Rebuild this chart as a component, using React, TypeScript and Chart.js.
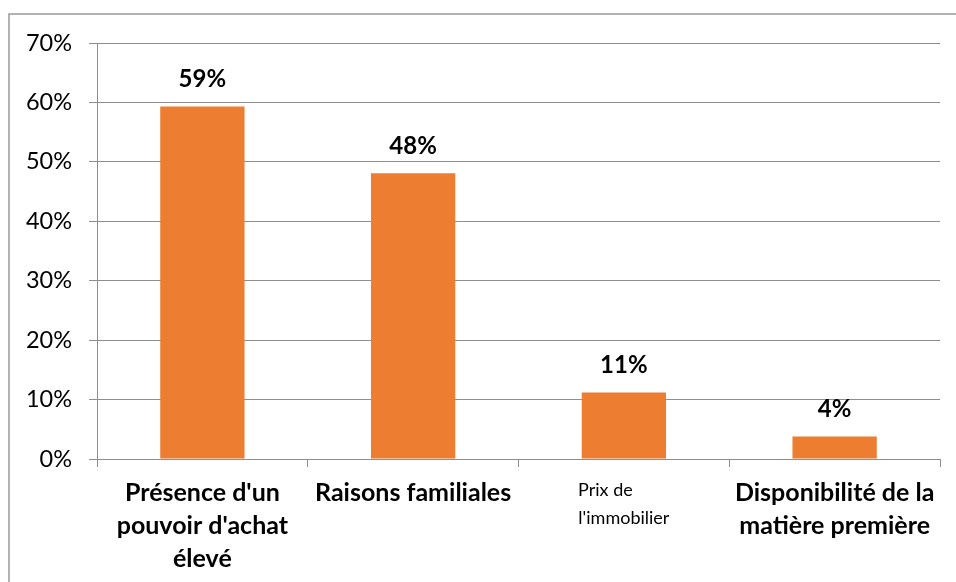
import React, { useEffect, useRef } from "react";
import { Chart, registerables } from "chart.js";

Chart.register(...registerables);

const categories: (string | string[])[] = [
  ["Présence d'un", "pouvoir d'achat", "élevé"],
  "Raisons familiales",
  ["Prix de\u00A0\u00A0\u00A0\u00A0\u00A0\u00A0\u00A0\u00A0", "l'immobilier"],
  ["Disponibilité de la", "matière première"],
];
const values: number[] = [59.3, 48.1, 11.2, 3.8];
const valueLabels: string[] = ["59%", "48%", "11%", "4%"];
const yTicks: number[] = [0, 10, 20, 30, 40, 50, 60, 70];

const FONT = "Lato, 'Open Sans', sans-serif";

export default function App() {
  const ref = useRef<HTMLCanvasElement | null>(null);

  useEffect(() => {
    if (!ref.current) return;
    const frame = {
      id: "frame",
      beforeDraw(chart: any) {
        const ctx = chart.ctx;
        ctx.save();
        ctx.fillStyle = "#ffffff";
        ctx.fillRect(0, 0, chart.width, chart.height);
        ctx.strokeStyle = "#9a9a9a";
        ctx.lineWidth = 1.5;
        ctx.strokeRect(9, 14, chart.width + 20, chart.height + 20);
        ctx.restore();
      },
    };
    const valueLabelPlugin = {
      id: "valueLabels",
      afterDatasetsDraw(chart: any) {
        const ctx = chart.ctx;
        const meta = chart.getDatasetMeta(0);
        ctx.save();
        ctx.font = `bold 24px ${FONT}`;
        ctx.fillStyle = "#000000";
        ctx.textAlign = "center";
        ctx.textBaseline = "middle";
        meta.data.forEach((bar: any, i: number) => {
          ctx.fillText(valueLabels[i], bar.x, bar.y - 27);
        });
        ctx.restore();
      },
    };
    const chart = new Chart(ref.current, {
      type: "bar",
      data: {
        labels: categories,
        datasets: [
          {
            data: values,
            backgroundColor: "#ED7D31",
            borderWidth: 0,
            barPercentage: 0.4,
            categoryPercentage: 1,
          },
        ],
      },
      options: {
        responsive: false,
        animation: false,
        devicePixelRatio: 1,
        layout: { padding: { top: 43, right: 16, left: 0, bottom: 0 } },
        plugins: { legend: { display: false }, tooltip: { enabled: false } },
        scales: {
          x: {
            grid: {
              offset: true,
              drawOnChartArea: false,
              drawTicks: true,
              tickLength: 8,
              color: "#8e8e8e",
            },
            border: { display: true, color: "#8e8e8e", width: 1 },
            ticks: {
              color: "#000000",
              padding: 9,
              maxRotation: 0,
              autoSkip: false,
              font: (ctx: any) =>
                ctx.index === 2
                  ? { family: FONT, size: 18, weight: "normal", lineHeight: "28px" }
                  : { family: FONT, size: 25, weight: "bold", lineHeight: "33px" },
            },
            afterFit: (s: any) => {
              s.height = 123;
            },
          },
          y: {
            min: 0,
            max: 70,
            afterBuildTicks: (s: any) => {
              s.ticks = yTicks.map((v) => ({ value: v }));
            },
            grid: {
              color: "#8e8e8e",
              tickLength: 8,
              drawTicks: true,
            },
            border: { display: true, color: "#8e8e8e", width: 1 },
            ticks: {
              color: "#000000",
              padding: 17,
              font: { family: FONT, size: 23.5 },
              callback: (v: any) => `${v}%`,
            },
            afterFit: (s: any) => {
              s.width = 97;
            },
          },
        },
      },
      plugins: [frame, valueLabelPlugin],
    } as any);
    return () => chart.destroy();
  }, []);

  return (
    <div style={{ position: "absolute", left: 0, top: 0, width: 956, height: 582 }}>
      <canvas ref={ref} width={956} height={582} style={{ display: "block", width: 956, height: 582 }} />
    </div>
  );
}
